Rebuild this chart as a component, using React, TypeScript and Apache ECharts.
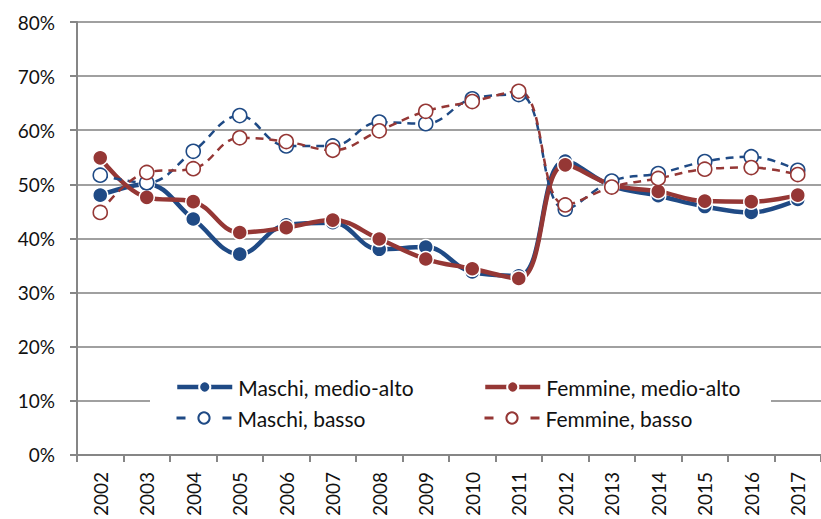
import React, { useEffect, useRef } from "react";
import * as echarts from "echarts";

const years = ["2002","2003","2004","2005","2006","2007","2008","2009","2010","2011","2012","2013","2014","2015","2016","2017"];
const maschiMedioAlto = [48.0, 50.0, 43.6, 37.1, 42.5, 42.9, 38.0, 38.4, 33.8, 33.1, 54.3, 49.7, 47.9, 45.9, 44.8, 47.2];
const femmineMedioAlto = [54.9, 47.6, 46.8, 41.1, 42.0, 43.4, 39.9, 36.2, 34.4, 32.6, 53.6, 49.9, 48.7, 46.9, 46.8, 48.0];
const maschiBasso = [51.7, 50.3, 56.1, 62.7, 57.1, 57.1, 61.5, 61.2, 65.8, 66.6, 45.4, 50.6, 52.0, 54.2, 55.1, 52.6];
const femmineBasso = [44.8, 52.2, 52.9, 58.6, 57.9, 56.3, 59.9, 63.5, 65.3, 67.2, 46.2, 49.5, 51.1, 52.8, 53.1, 51.8];
const yTicks = { min: 0, max: 80, interval: 10 };

const BLUE = "#1F4A85";
const RED = "#953735";
const FONT = "Lato";

export default function App() {
  const ref = useRef<HTMLDivElement>(null);
  useEffect(() => {
    if (!ref.current) return;
    const chart = echarts.init(ref.current, null, { renderer: "svg" });
    const solid = (name: string, data: number[], color: string) => ({
      name,
      type: "line",
      data,
      smooth: 0.4,
      symbol: "circle",
      symbolSize: 15,
      itemStyle: { color, borderColor: "#fff", borderWidth: 1.5 },
      lineStyle: { color, width: 4.5 },
    });
    const dashed = (name: string, data: number[], color: string) => ({
      name,
      type: "line",
      data,
      smooth: 0.4,
      symbol: "circle",
      symbolSize: 14,
      itemStyle: { color: "#fff", borderColor: color, borderWidth: 1.6 },
      lineStyle: { color, width: 2.5, type: [8, 6] },
    });
    const legendItem = (name: string, left: number, top: number, isSolid: boolean) => ({
      data: [name],
      left,
      top,
      padding: 0,
      itemWidth: 55,
      itemHeight: 14,
      itemGap: 0,
      lineStyle: isSolid ? { width: 4.5, type: "solid" } : { width: 3, type: [9, 37] },
      textStyle: { fontFamily: FONT, fontSize: 21, color: "#111", lineHeight: 24, padding: [0, 0, 0, 1] },
      selectedMode: false,
    });
    chart.setOption({
      animation: false,
      textStyle: { fontFamily: FONT },
      grid: { left: 77, top: 22, width: 757.3, height: 434.7, containLabel: false },
      graphic: [
        { type: "rect", z: 1, shape: { x: 150, y: 358, width: 621, height: 84 }, style: { fill: "#fff" } },
      ],
      legend: [
        legendItem("Maschi, medio-alto", 175, 375, true),
        legendItem("Femmine, medio-alto", 483, 375, true),
        legendItem("Maschi, basso", 175, 406, false),
        legendItem("Femmine, basso", 483, 406, false),
      ],
      xAxis: {
        type: "category",
        data: years,
        boundaryGap: true,
        axisLine: { lineStyle: { color: "#868686", width: 2 } },
        axisTick: { show: true, length: 7, lineStyle: { color: "#868686", width: 2 } },
        axisLabel: { rotate: 90, margin: 17, fontFamily: FONT, fontSize: 19, color: "#111", interval: 0 },
        splitLine: { show: false },
      },
      yAxis: {
        type: "value",
        min: yTicks.min,
        max: yTicks.max,
        interval: yTicks.interval,
        axisLine: { show: true, lineStyle: { color: "#868686", width: 2 } },
        axisTick: { show: true, length: 7, lineStyle: { color: "#868686", width: 2 } },
        axisLabel: { formatter: "{value}%", margin: 22, fontFamily: FONT, fontSize: 19, color: "#111" },
        splitLine: { show: true, lineStyle: { color: "#A0A0A0", width: 2 } },
      },
      series: [
        solid("Maschi, medio-alto", maschiMedioAlto, BLUE),
        solid("Femmine, medio-alto", femmineMedioAlto, RED),
        dashed("Maschi, basso", maschiBasso, BLUE),
        dashed("Femmine, basso", femmineBasso, RED),
      ],
    });
    return () => chart.dispose();
  }, []);
  return (
    <div
      ref={ref}
      style={{ position: "fixed", left: 0, top: 0, width: 821, height: 519, background: "#fff" }}
    />
  );
}
